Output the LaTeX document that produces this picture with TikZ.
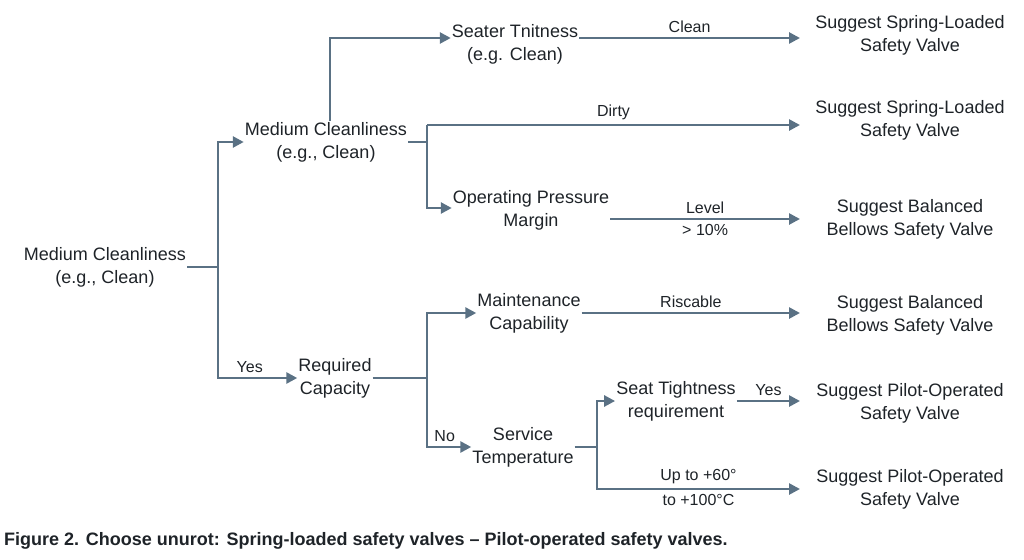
\documentclass[tikz,border=0pt]{standalone}
\usepackage{fontspec}
\setmainfont{Liberation Sans}
\usetikzlibrary{arrows.meta,positioning}
\definecolor{linegray}{HTML}{5A7184}
\definecolor{textdark}{HTML}{1E2328}
\begin{document}
\begin{tikzpicture}[
		x=1pt, y=-1pt,
		font=\fontsize{18}{23}\selectfont,
		text=textdark,
		box/.style={inner sep=1pt, align=center},
		result/.style={inner sep=1pt, align=center},
		link/.style={draw=linegray, line width=2.6pt},
		flow/.style={link, -{Triangle[length=11pt,width=11pt]}},
		tag/.style={font=\fontsize{16}{18}\selectfont, inner sep=4pt},
	]
		\useasboundingbox (0,0) rectangle (1024,559);

		\node (root) [box] at (105,267) {Medium Cleanliness\\(e.g., Clean)};
		\node (clean mid) [box] at (326,142) {Medium Cleanliness\\(e.g., Clean)};
		\node (seater) [box] at (515,44) {Seater Tnitness\\(e.g. Clean)};
		\node (pressure) [box] at (531,210) {Operating Pressure\\Margin};
		\node (capacity) [box] at (335,378) {Required\\Capacity};
		\node (maint) [box] at (529,313) {Maintenance\\Capability};
		\node (service) [box] at (523,447) {Service\\Temperature};
		\node (seat) [box] at (676,401) {Seat Tightness\\requirement};

		\node (res spring a) [result] at (910,35) {Suggest Spring-Loaded\\Safety Valve};
		\node (res spring b) [result] at (910,120) {Suggest Spring-Loaded\\Safety Valve};
		\node (res bellows a) [result] at (910,219) {Suggest Balanced\\Bellows Safety Valve};
		\node (res bellows b) [result] at (910,315) {Suggest Balanced\\Bellows Safety Valve};
		\node (res pilot a) [result] at (910,403) {Suggest Pilot-Operated\\Safety Valve};
		\node (res pilot b) [result] at (910,489) {Suggest Pilot-Operated\\Safety Valve};

		\coordinate (root split) at (218,267);
		\coordinate (mid split) at (427,142);
		\coordinate (cap split) at (427,378);
		\coordinate (serv split) at (597,447);
		\coordinate (res edge) at (800,0);

		% root branches
		\draw[link] (root.east) -- (root split);
		\draw[flow] (root split) |- (clean mid.west);
		\draw[flow] (root split) |- node[tag, pos=0.7, above] {Yes} (capacity.west);

		% upper branch
		\draw[flow] (clean mid.north -| 330,0) |- (seater.west |- 0,38);
		\draw[link] (clean mid.east |- mid split) -- (mid split);
		\draw[flow] (mid split |- 0,125) -- node[tag, above] {Dirty} (res edge |- 0,125);
		\draw[flow] (mid split |- 0,125) |- (pressure.west |- 0,208);
		\draw[flow] (seater.east |- 0,38) -- node[tag, above] {Clean} (res edge |- 0,38);
		\draw[flow] (pressure.east |- 0,219) -- node[tag, above] {Level} node[tag, below] {> 10\%} (res edge |- 0,219);

		% lower branch
		\draw[link] (capacity.east) -- (cap split);
		\draw[flow] (cap split) |- (maint.west);
		\draw[flow] (cap split) |- node[tag, pos=0.7, above] {No} (service.west);
		\draw[flow] (maint.east) -- node[tag, above] {Riscable} (res edge |- maint);
		\draw[link] (service.east) -- (serv split);
		\draw[flow] (serv split) |- (seat.west);
		\draw[flow] (serv split) |- node[tag, pos=0.75, above] {Up to +60°} node[tag, pos=0.75, below] {to +100°C} (res edge |- 0,489);
		\draw[flow] (seat.east) -- node[tag, above] {Yes} (res edge |- seat);

		\node (caption) [anchor=west, inner sep=0pt, font=\fontsize{18}{20}\selectfont\bfseries] at (4,541) {Figure 2. Choose unurot: Spring-loaded safety valves – Pilot-operated safety valves.};
	\end{tikzpicture}
\end{document}
